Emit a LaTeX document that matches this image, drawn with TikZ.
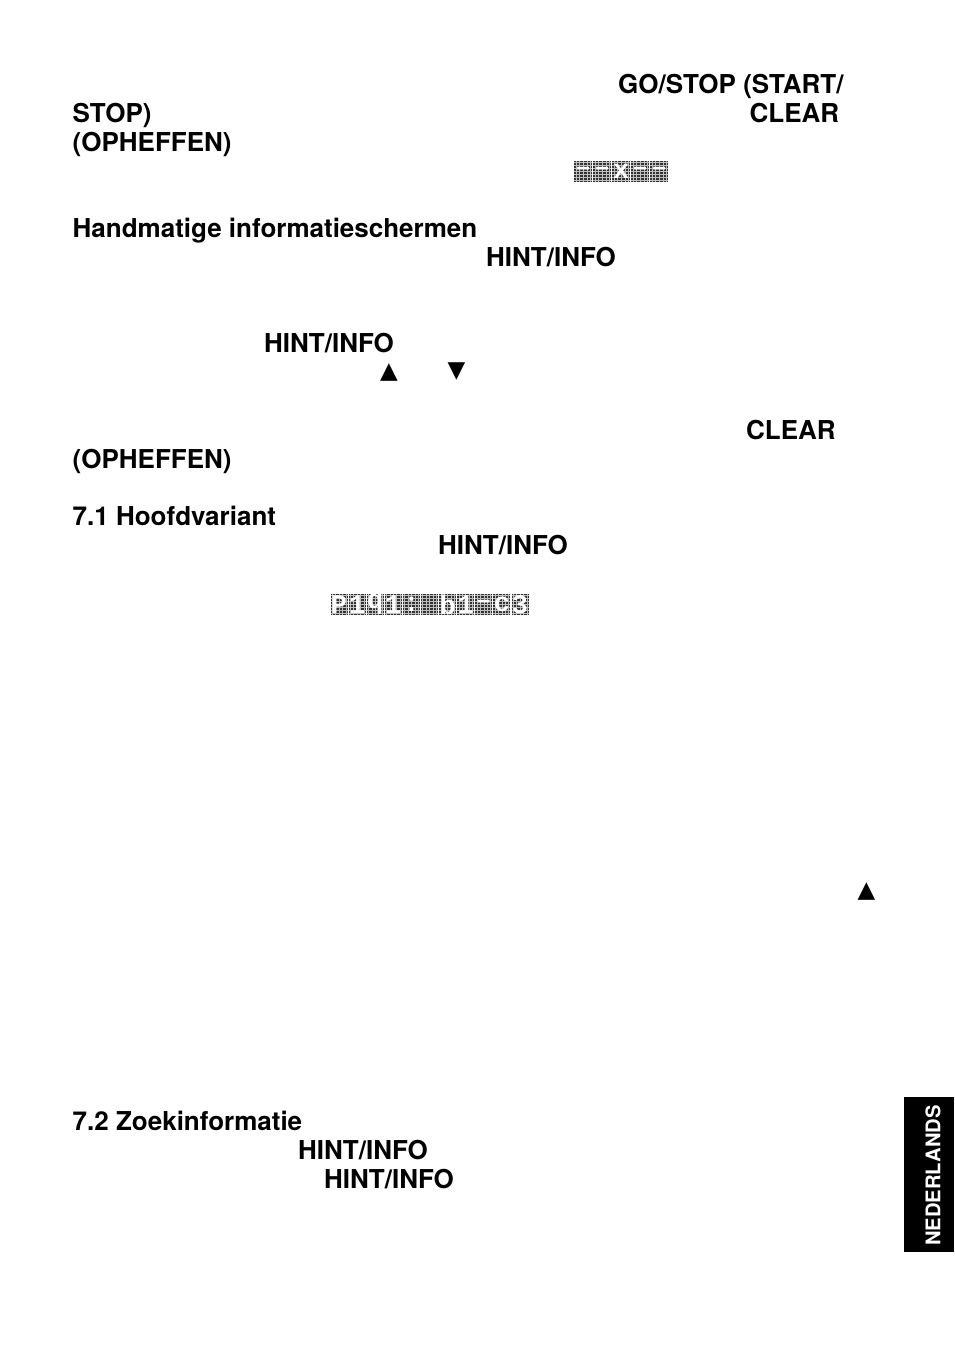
\documentclass[tikz,border=0pt]{standalone}
\usepackage{fontspec}
\setmainfont{TeX Gyre Heros}
\newfontfamily\lcdfont{Liberation Mono}
\newfontfamily\symfont{DejaVu Sans}
\tikzset{
  keyword/.style={anchor=base west,inner sep=0pt,font=\fontsize{26}{29}\selectfont\bfseries},
  arrowkey/.style={inner sep=0pt,font=\fontsize{23}{23}\selectfont\symfont},
  lcdglyph/.style={inner sep=0pt,text=white,font=\fontsize{27}{27}\selectfont\lcdfont\bfseries},
  sidetab/.style={fill=black,text=white,minimum width=50pt,minimum height=155pt,inner sep=0pt}
}
% one display cell: [width factor], x, y, name, character
\newcommand{\lcdcell}[5][1]{
  \begin{scope}[shift={(#2,#3)},xscale=#1]
    \fill[black!80] (0,0) rectangle (17,21);
    \foreach \gx in {1.7,5.1,8.5,11.9,15.3}
      \draw[black!25,line width=0.6pt] (\gx,0) -- (\gx,21);
    \foreach \gy in {1.5,4.5,7.5,10.5,13.5,16.5,19.5}
      \draw[black!25,line width=0.6pt] (0,\gy) -- (17,\gy);
    \node[lcdglyph] (#4) at (8.5,10.5) {#5};
  \end{scope}
}
\begin{document}
\begin{tikzpicture}[x=1pt,y=-1pt]
  \useasboundingbox (0,0) rectangle (954,1345);
  \node[keyword] (gostop) at (618,93) {GO/STOP (START/};
  \node[keyword] (stop) at (72.5,122) {STOP)};
  \node[keyword] (clearA) at (749.5,122) {CLEAR};
  \node[keyword] (ophA) at (72.5,151) {(OPHEFFEN)};
  \node[keyword] (handmatig) at (72.5,237) {Handmatige informatieschermen};
  \node[keyword] (hintA) at (486,266) {HINT/INFO};
  \node[keyword] (hintB) at (264,352) {HINT/INFO};
  \node[arrowkey] (upA) at (389,372.5) {▲};
  \node[arrowkey] (downA) at (456.5,371.5) {▼};
  \node[keyword] (clearB) at (746,439) {CLEAR};
  \node[keyword] (ophB) at (72.5,468) {(OPHEFFEN)};
  \node[keyword] (hoofd) at (72.5,525) {7.1 Hoofdvariant};
  \node[keyword] (hintC) at (438,554) {HINT/INFO};
  \node[arrowkey] (upB) at (866.5,891.5) {▲};
  \node[keyword] (zoek) at (72.5,1130) {7.2 Zoekinformatie};
  \node[keyword] (hintD) at (298,1159) {HINT/INFO};
  \node[keyword] (hintE) at (324,1188) {HINT/INFO};
  % displays
  \foreach \ch [count=\i from 0] in {–,–,x,–,–}
    \lcdcell[1.08]{574+\i*19}{161}{lcdA\i}{\ch};
  \foreach \ch [count=\i from 0] in {P,1,q,1,:,{},b,1,–,c,3}
    \lcdcell{330.5+\i*18.1}{594}{lcdB\i}{\ch};
  % language tab
  \node[sidetab] (tab) at (929,1174.5) {};
  \node[rotate=90,text=white,inner sep=0pt,font=\fontsize{20.2}{20}\selectfont\bfseries] (taal) at (933,1175.5) {NEDERLANDS};
\end{tikzpicture}
\end{document}
